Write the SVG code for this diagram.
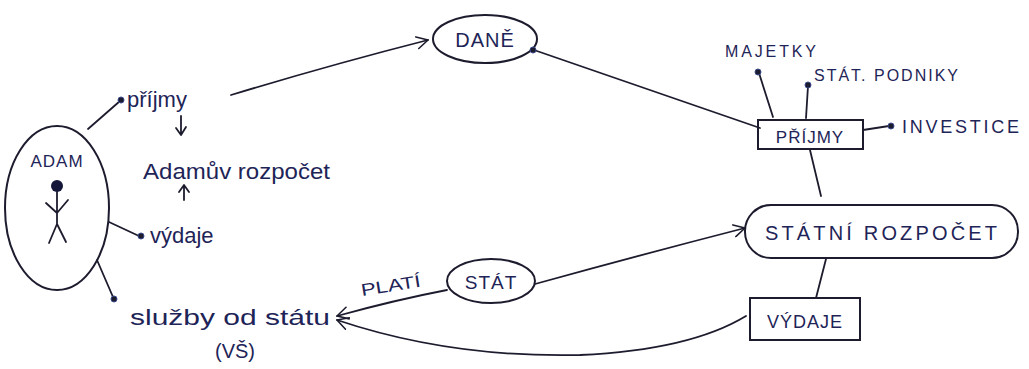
<svg xmlns="http://www.w3.org/2000/svg" width="1029" height="369" viewBox="0 0 1029 369">
<defs>
<marker id="arr" viewBox="0 0 14 14" refX="12" refY="7" markerWidth="14" markerHeight="14" markerUnits="userSpaceOnUse" orient="auto">
<path d="M1,1 L12,7 L1,13" fill="none" stroke="#1c1c2e" stroke-width="1.6" stroke-linecap="round" stroke-linejoin="round"/>
</marker>
</defs>
<style>
.ln{fill:none;stroke:#1c1c2e;stroke-width:1.8;stroke-linecap:round;stroke-linejoin:round}
.sh{fill:none;stroke:#1c1c2e;stroke-width:2}
.dot{fill:#1c1c2e;stroke:#3a4a8a;stroke-width:1}
.hw{font-family:"Liberation Sans",Arial,sans-serif;fill:#1e2457}
.cap{font-family:"Liberation Sans",Arial,sans-serif;fill:#1e2457;letter-spacing:1px}
</style>
<rect width="1029" height="369" fill="#ffffff"/>

<g id="connectors">
<line class="ln" x1="88" y1="129" x2="120" y2="101"/>
<line class="ln" x1="109" y1="222" x2="139" y2="236"/>
<line class="ln" x1="97" y1="260" x2="113" y2="297"/>
<path class="ln" d="M231,95 Q330,65 428,40" marker-end="url(#arr)"/>
<line class="ln" x1="534" y1="50" x2="760" y2="128"/>
<line class="ln" x1="759" y1="73" x2="773" y2="117"/>
<line class="ln" x1="808" y1="86" x2="806" y2="118"/>
<line class="ln" x1="863" y1="130" x2="889" y2="126"/>
<line class="ln" x1="810" y1="150" x2="821" y2="196"/>
<line class="ln" x1="826" y1="259" x2="816" y2="298"/>
<path class="ln" d="M535,284 Q640,255 745,228" marker-end="url(#arr)"/>
<path class="ln" d="M447,290 Q395,300 337,316" marker-end="url(#arr)"/>
<path class="ln" d="M746,316 Q690,350 580,355 Q450,358 337,320" marker-end="url(#arr)"/>
<path class="ln" d="M181,116 L181,134 M176,128 L181,135 L186,127"/>
<path class="ln" d="M184,200 L184,186 M179,192 L184,185 L189,192"/>
</g>

<g id="adam">
<ellipse class="sh" cx="57" cy="208" rx="52" ry="82"/>
<text class="cap" x="57" y="167" font-size="17" text-anchor="middle">ADAM</text>
<circle cx="57" cy="186" r="6" fill="#14163a"/>
<path class="ln" d="M57,192 L57,224 M46,203 L57,213 L68,200 M49,243 L57,224 L66,242"/>
</g>

<g id="prijmy-adam">
<circle class="dot" cx="121" cy="100" r="3"/>
<text class="hw" x="127" y="107" font-size="22">příjmy</text>
</g>

<g id="adamuv-rozpocet">
<text class="hw" x="143" y="179" font-size="22" textLength="187" lengthAdjust="spacingAndGlyphs">Adamův rozpočet</text>
</g>

<g id="vydaje-adam">
<circle class="dot" cx="141" cy="236" r="3"/>
<text class="hw" x="150" y="243" font-size="22">výdaje</text>
</g>

<g id="sluzby">
<circle class="dot" cx="114" cy="299" r="3"/>
<text class="hw" x="130" y="325" font-size="22" textLength="200" lengthAdjust="spacingAndGlyphs">služby od státu</text>
<text class="hw" x="215" y="358" font-size="20">(VŠ)</text>
</g>

<g id="dane">
<ellipse class="sh" cx="485" cy="39" rx="52" ry="24"/>
<text class="cap" x="485" y="47" font-size="20" text-anchor="middle">DANĚ</text>
<circle class="dot" cx="533" cy="50" r="3"/>
</g>

<g id="prijmy-stat">
<rect class="sh" x="758" y="120" width="105" height="29"/>
<text class="cap" x="810" y="143" font-size="17" text-anchor="middle">PŘÍJMY</text>
</g>

<g id="majetky">
<circle class="dot" cx="758" cy="72" r="3"/>
<text class="cap" x="725" y="57" font-size="16" textLength="92">MAJETKY</text>
</g>

<g id="statni-podniky">
<circle class="dot" cx="808" cy="85" r="3"/>
<text class="cap" x="814" y="81" font-size="16" textLength="145">STÁT. PODNIKY</text>
</g>

<g id="investice">
<circle class="dot" cx="891" cy="126" r="3"/>
<text class="cap" x="902" y="133" font-size="18" textLength="118">INVESTICE</text>
</g>

<g id="statni-rozpocet">
<rect class="sh" x="745" y="205" width="273" height="53" rx="26" ry="26"/>
<text class="cap" x="765" y="240" font-size="20" textLength="233">STÁTNÍ ROZPOČET</text>
</g>

<g id="vydaje-stat">
<rect class="sh" x="750" y="298" width="110" height="42"/>
<text class="cap" x="805" y="328" font-size="18" text-anchor="middle">VÝDAJE</text>
</g>

<g id="stat">
<ellipse class="sh" cx="491" cy="281" rx="44" ry="22"/>
<text class="cap" x="491" y="289" font-size="19" text-anchor="middle">STÁT</text>
</g>

<g id="plati">
<text class="hw" x="362" y="296" font-size="17" textLength="60" lengthAdjust="spacingAndGlyphs" transform="rotate(-9 362 296)">PLATÍ</text>
</g>
</svg>
